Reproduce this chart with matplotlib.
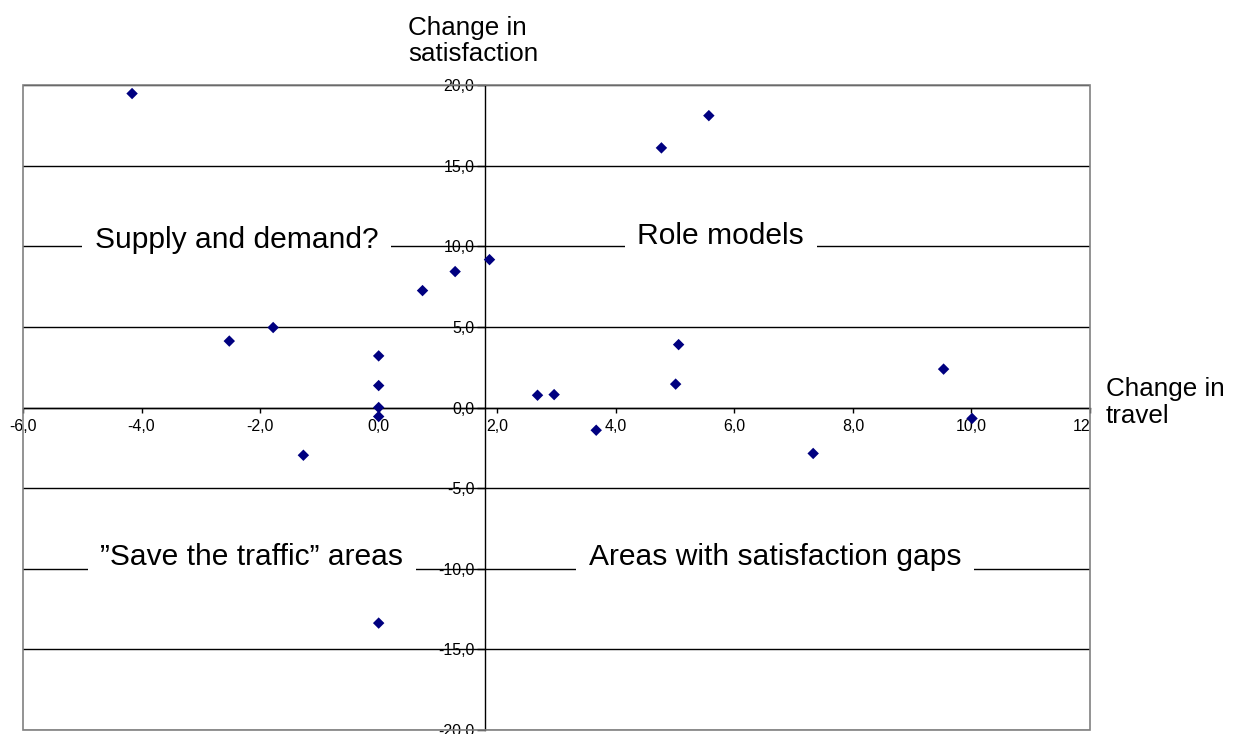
import matplotlib
matplotlib.use("Agg")
import matplotlib.pyplot as plt
from matplotlib.patches import Rectangle

plt.rcParams['font.family'] = ['Liberation Sans', 'DejaVu Sans']

# ---- data ----
travel_change = [-4.16, -2.52, -1.78, -1.27, 0.0, 0.0, 0.0, 0.0, 0.0, 0.74, 1.29, 1.87,
                 2.68, 2.96, 3.67, 4.77, 5.57, 5.01, 5.06, 7.33, 9.53, 10.01]
satisfaction_change = [19.47, 4.12, 4.96, -2.96, 3.2, 1.36, 0.0, -0.56, -13.37, 7.25, 8.43, 9.17,
                       0.76, 0.8, -1.41, 16.1, 18.1, 1.45, 3.9, -2.85, 2.38, -0.68]

x_ticks = [-6, -4, -2, 0, 2, 4, 6, 8, 10, 12]
x_tick_labels = ["-6,0", "-4,0", "-2,0", "0,0", "2,0", "4,0", "6,0", "8,0", "10,0", "12"]
y_ticks = [-20, -15, -10, -5, 0, 5, 10, 15, 20]
y_tick_labels = ["-20,0", "-15,0", "-10,0", "-5,0", "0,0", "5,0", "10,0", "15,0", "20,0"]

quadrant_labels = ["Supply and demand?", "Role models", "\u201dSave the traffic\u201d areas",
                   "Areas with satisfaction gaps"]
quadrant_x = [-2.40, 5.77, -2.14, 6.69]
quadrant_y = [9.92, 10.15, -9.78, -9.76]

x_title = "Change in\ntravel"
y_title = "Change in\nsatisfaction"

# ---- figure ----
W, H = 1240, 734
fig = plt.figure(figsize=(W / 100, H / 100), dpi=100)
ax = fig.add_axes([23 / W, 1 - 730 / H, (1090 - 23) / W, (730 - 85) / H])

ax.set_xlim(-6, 12)
ax.set_ylim(-20, 20)

ax.scatter(travel_change, satisfaction_change, marker='D', s=34, color='#000080',
           edgecolors='none', zorder=4)

# spines: crossing axes
ax.spines['left'].set_position(('data', 1.8))
ax.spines['bottom'].set_position(('data', 0))
ax.spines['top'].set_visible(False)
ax.spines['right'].set_visible(False)
for s in ('left', 'bottom'):
    ax.spines[s].set_color('black')
    ax.spines[s].set_linewidth(1.0)
    ax.spines[s].set_zorder(3)

ax.set_xticks(x_ticks)
ax.set_xticklabels(x_tick_labels)
ax.set_yticks(y_ticks)
ax.set_yticklabels(y_tick_labels)
ax.tick_params(axis='x', direction='out', length=3.5, width=1, pad=5, labelsize=11.5)
ax.tick_params(axis='y', direction='out', length=6, width=1, pad=2, labelsize=11.5)
xl = ax.get_xticklabels()
xl[-1].set_ha('right')

# gridlines
ax.yaxis.grid(True, color='black', linewidth=1.0)
ax.xaxis.grid(False)
ax.set_axisbelow(True)

# plot-area border
ax.add_patch(Rectangle((0, 0), 1, 1, transform=ax.transAxes, fill=False,
                       edgecolor='#808080', linewidth=1.2, zorder=5, clip_on=False))

# quadrant labels
for lab, qx, qy in zip(quadrant_labels, quadrant_x, quadrant_y):
    ax.text(qx, qy, lab, ha='center', va='baseline', fontsize=21.6, color='black',
            bbox=dict(boxstyle='square,pad=0.42', facecolor='white', edgecolor='none'),
            zorder=6)

# axis titles
fig.text(408 / W, 1 - 61 / H, y_title, ha='left', va='baseline', fontsize=18.7,
         linespacing=1.1)
fig.text(1106 / W, 1 - 423 / H, x_title, ha='left', va='baseline', fontsize=18.7,
         linespacing=1.15)

fig.savefig("out.png", dpi=100, facecolor='white')
